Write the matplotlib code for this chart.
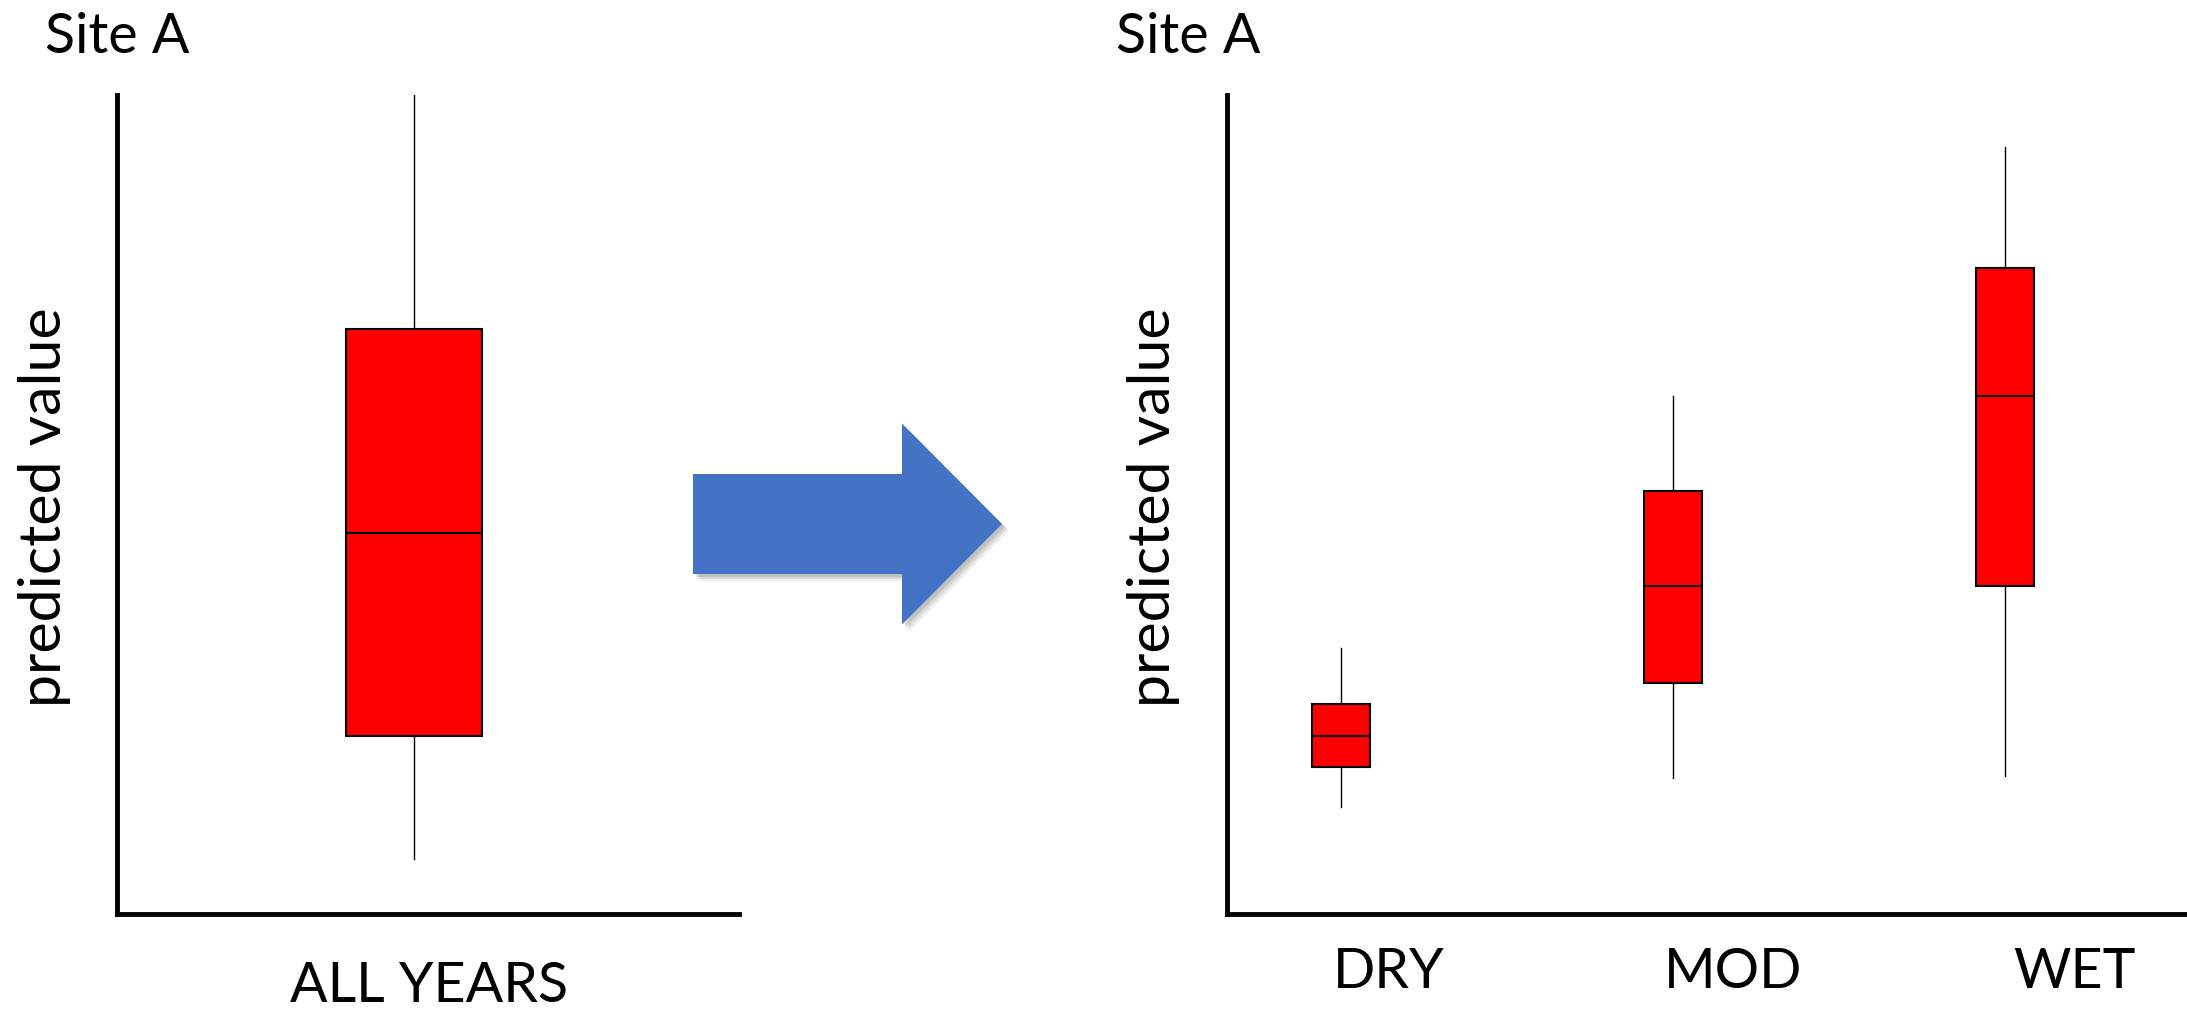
import matplotlib
matplotlib.use("Agg")
import matplotlib.pyplot as plt
from matplotlib.patches import FancyArrow

plt.rcParams['font.family'] = ['Lato', 'DejaVu Sans']

W, H = 2187, 1013

# ---- data (y in arbitrary units, 0 = x axis, 100 = top of y axis) ----
all_labels = ["ALL YEARS"]
all_whislo = [6.7]
all_q1 = [21.7]
all_med = [46.5]
all_q3 = [71.4]
all_whishi = [100.0]

group_labels = ["DRY", "MOD", "WET"]
grp_whislo = [13.1, 16.6, 16.8]
grp_q1 = [18.0, 28.2, 40.0]
grp_med = [21.7, 40.0, 63.2]
grp_q3 = [25.7, 51.6, 78.9]
grp_whishi = [32.5, 63.3, 93.6]

title = "Site A"
ylab = "predicted value"
FS = 40


def make_stats(lo, q1, med, q3, hi):
    return [dict(whislo=a, q1=b, med=c, q3=d, whishi=e)
            for a, b, c, d, e in zip(lo, q1, med, q3, hi)]


def style(ax, pad):
    for s in ["top", "right"]:
        ax.spines[s].set_visible(False)
    for s in ["left", "bottom"]:
        ax.spines[s].set_linewidth(3.5)
        ax.spines[s].set_capstyle("projecting")
    ax.set_yticks([])
    ax.tick_params(axis="x", length=0, labelsize=FS, pad=pad)
    ax.set_ylim(0, 100)
    ax.patch.set_visible(False)


def draw_boxes(ax, stats, pos, w):
    ax.bxp(stats, positions=pos, widths=w, showcaps=False, showfliers=False,
           patch_artist=True,
           boxprops=dict(facecolor="#FF0000", edgecolor="black", linewidth=1.5),
           medianprops=dict(color="black", linewidth=1.5),
           whiskerprops=dict(color="black", linewidth=1.0))


fig = plt.figure(figsize=(W / 100, H / 100), dpi=100)

# left panel
ax1 = fig.add_axes([117 / W, 1 - 914 / H, 622 / W, 819 / H])
pos1 = [1]
draw_boxes(ax1, make_stats(all_whislo, all_q1, all_med, all_q3, all_whishi), pos1, 0.48)
style(ax1, 34)
ax1.set_xlim(-0.05, 2.15)
ax1.set_xticks([p + 0.053 for p in pos1])
ax1.set_xticklabels(all_labels)
ax1.set_ylabel(ylab, fontsize=42.5, ha="center", va="center")
ax1.yaxis.set_label_coords(-0.116, 0.497)

# right panel
ax2 = fig.add_axes([1227 / W, 1 - 914 / H, 960 / W, 819 / H])
pos2 = [1, 2, 3]
draw_boxes(ax2, make_stats(grp_whislo, grp_q1, grp_med, grp_q3, grp_whishi), pos2, 0.175)
style(ax2, 24)
ax2.set_xlim(0.657, 3.548)
shift = [0.145, 0.18, 0.21]
ax2.set_xticks([p + s for p, s in zip(pos2, shift)])
ax2.set_xticklabels(group_labels)
ax2.set_ylabel(ylab, fontsize=42.5, ha="center", va="center")
ax2.yaxis.set_label_coords(-0.077, 0.497)

fig.text(45 / W, 1 - 53 / H, title, fontsize=FS, va="baseline")
fig.text(1116 / W, 1 - 53 / H, title, fontsize=FS, va="baseline")

# blue arrow between panels, drawn in pixel space
ov = fig.add_axes([0, 0, 1, 1], zorder=5)
ov.set_xlim(0, W)
ov.set_ylim(H, 0)
ov.axis("off")
for off, a in [(3, 0.25), (5, 0.2), (7, 0.12)]:
    ov.add_patch(FancyArrow(693 + off, 524 + off, 309, 0, width=100, head_width=201,
                            head_length=100, length_includes_head=True,
                            color="#7f7f7f", alpha=a, lw=0))
ov.add_patch(FancyArrow(693, 524, 309, 0, width=100, head_width=201, head_length=100,
                        length_includes_head=True, color="#4472C4", lw=0))

fig.savefig("out.png", dpi=100)
